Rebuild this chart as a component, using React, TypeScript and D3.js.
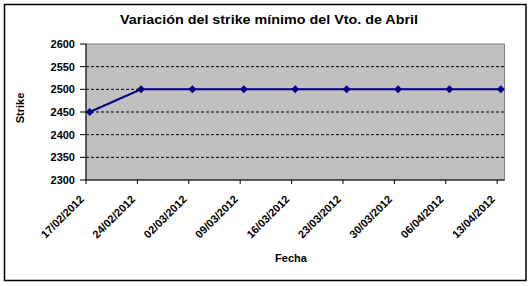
import React from "react";
import * as d3 from "d3";

const dates = ["17/02/2012", "24/02/2012", "02/03/2012", "09/03/2012", "16/03/2012", "23/03/2012", "30/03/2012", "06/04/2012", "13/04/2012"];
const strikes = [2450, 2500, 2500, 2500, 2500, 2500, 2500, 2500, 2500];
const yTicks = [2300, 2350, 2400, 2450, 2500, 2550, 2600];
const titleText = "Variación del strike mínimo del Vto. de Abril";

const W = 531, H = 286;
const plot = { left: 86, right: 504.5, top: 44, bottom: 180 };
const font = "Arial, 'Liberation Sans', sans-serif";

export default function App() {
  const parse = d3.timeParse("%d/%m/%Y");
  const parsed = dates.map((d) => parse(d) as Date);
  const start = parsed[0];
  const endDay = d3.timeDay.offset(parsed[parsed.length - 1], 1);
  const x = d3.scaleTime().domain([start, endDay]).range([plot.left, plot.right]);
  const y = d3.scaleLinear().domain([2300, 2600]).range([plot.bottom, plot.top]);
  const center = (d: Date) => x(d3.timeHour.offset(d, 12));
  const line = d3
    .line<number>()
    .x((_, i) => center(parsed[i]))
    .y((v) => y(v));

  return (
    <svg width={W} height={H} style={{ position: "absolute", left: 0, top: 0, background: "#fff" }}>
      <rect x={4.5} y={4.5} width={521.5} height={276} fill="#fff" stroke="#000" strokeWidth={1.5} />
      <text x={269} y={24} textAnchor="middle" fontFamily={font} fontWeight="bold" fontSize={12} textLength={298} lengthAdjust="spacingAndGlyphs">
        {titleText}
      </text>
      <rect x={plot.left} y={plot.top} width={plot.right - plot.left} height={plot.bottom - plot.top} fill="#C0C0C0" stroke="#808080" strokeWidth={1} />
      {yTicks.filter((t) => t > 2300 && t < 2600).map((t) => (
        <line key={"g" + t} x1={plot.left} x2={plot.right} y1={y(t)} y2={y(t)} stroke="#000" strokeWidth={1} strokeDasharray="3,2" />
      ))}
      <line x1={plot.left} x2={plot.left} y1={plot.top} y2={plot.bottom} stroke="#000" strokeWidth={1} />
      <line x1={plot.left} x2={plot.right} y1={plot.bottom} y2={plot.bottom} stroke="#000" strokeWidth={1} />
      {yTicks.map((t) => (
        <g key={"y" + t}>
          <line x1={plot.left - 6} x2={plot.left} y1={y(t)} y2={y(t)} stroke="#000" />
          <text x={75} y={y(t) + 4} textAnchor="end" fontFamily={font} fontWeight="bold" fontSize={11}>
            {t}
          </text>
        </g>
      ))}
      {parsed.map((d, i) => {
        const tx = x(d);
        return (
          <g key={"x" + i}>
            <line x1={tx} x2={tx} y1={plot.bottom} y2={plot.bottom + 4} stroke="#000" />
            <text
              transform={`translate(${tx - 1.5},${200}) rotate(-45)`}
              textAnchor="end"
              fontFamily={font}
              fontWeight="bold"
              fontSize={11}
            >
              {dates[i]}
            </text>
          </g>
        );
      })}
      <path d={line(strikes) || ""} fill="none" stroke="#000080" strokeWidth={2} />
      {strikes.map((v, i) => {
        const cx = center(parsed[i]);
        const cy = y(v);
        const r = 4;
        return (
          <path key={"m" + i} d={`M${cx},${cy - r}L${cx + r},${cy}L${cx},${cy + r}L${cx - r},${cy}Z`} fill="#000080" />
        );
      })}
      <text transform={`translate(24,108) rotate(-90)`} textAnchor="middle" fontFamily={font} fontWeight="bold" fontSize={11}>
        Strike
      </text>
      <text x={291} y={262} textAnchor="middle" fontFamily={font} fontWeight="bold" fontSize={11}>
        Fecha
      </text>
    </svg>
  );
}
